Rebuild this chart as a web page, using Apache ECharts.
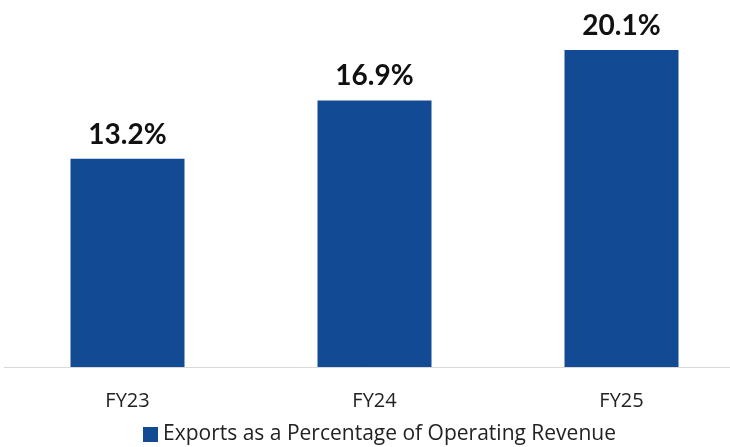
<!DOCTYPE html>
<html>
<head>
<meta charset="utf-8">
<script src="https://cdn.jsdelivr.net/npm/echarts@6/dist/echarts.min.js"></script>
<style>
  html, body { margin: 0; padding: 0; background: #fff; }
  #chart { width: 730px; height: 447px; }
</style>
</head>
<body>
<div id="chart"></div>
<script>
// values
const years = ['FY23', 'FY24', 'FY25']
const exportShare = [13.2, 16.9, 20.1]
const seriesName = 'Exports as a Percentage of Operating Revenue'

const chart = echarts.init(document.getElementById('chart'))

chart.setOption({
  animation: false,
  textStyle: { fontFamily: '"Open Sans", sans-serif' },
  grid: { left: 4, width: 741, top: 20, bottom: 80, outerBoundsMode: 'none', containLabel: false },
  legend: {
    data: [seriesName],
    bottom: -3,
    left: 138,
    itemWidth: 15,
    itemHeight: 15,
    icon: 'rect',
    itemGap: 6,
    textStyle: { fontSize: 21, color: '#222' }
  },
  xAxis: {
    type: 'category',
    data: years,
    axisTick: { show: false },
    axisLine: { lineStyle: { color: '#d9d9d9', width: 1 } },
    axisLabel: { fontSize: 20, color: '#222', margin: 24 }
  },
  yAxis: {
    type: 'value',
    min: 0,
    max: 22,
    show: false,
    splitLine: { show: false }
  },
  series: [{
    name: seriesName,
    type: 'bar',
    data: exportShare,
    barWidth: 114,
    itemStyle: { color: '#124a93' },
    label: {
      show: true,
      position: 'top',
      distance: 10,
      formatter: p => p.value.toFixed(1) + '%',
      fontFamily: 'Lato, sans-serif',
      fontSize: 28,
      fontWeight: 'bold',
      color: '#111'
    }
  }]
})
</script>
</body>
</html>
